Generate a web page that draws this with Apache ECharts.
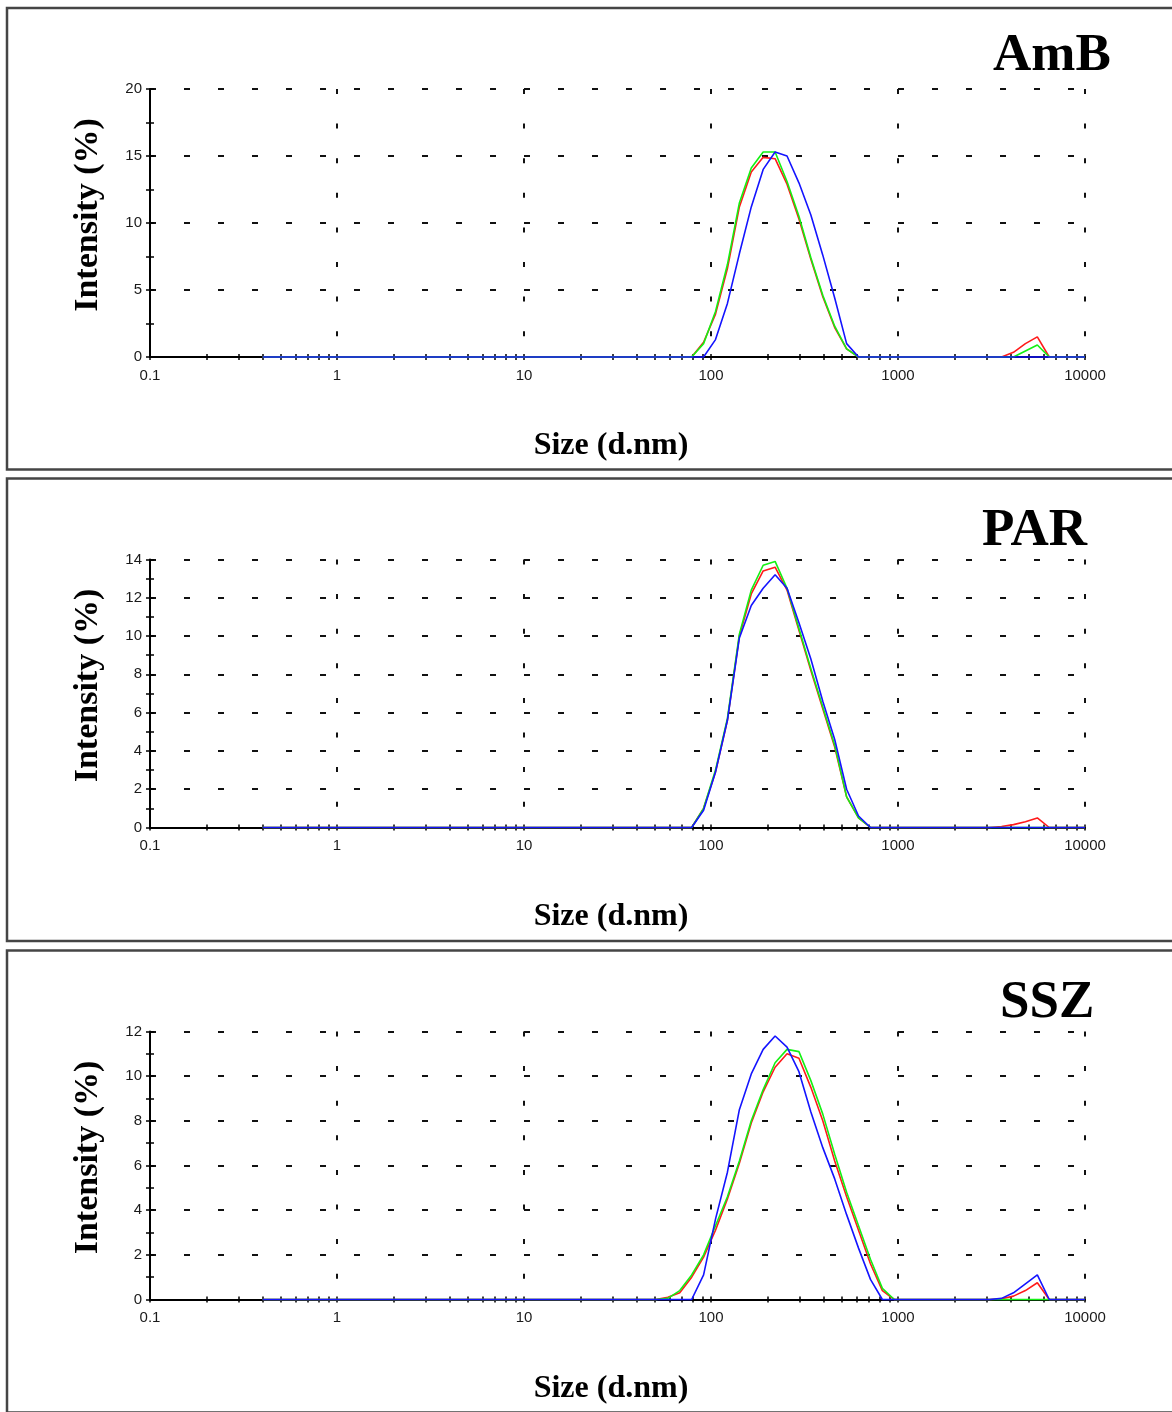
<!DOCTYPE html>
<html>
<head>
<meta charset="utf-8">
<script src="https://cdn.jsdelivr.net/npm/echarts@6/dist/echarts.min.js"></script>
<style>
html, body { margin: 0; padding: 0; background: #fff; }
#chart { width: 1172px; height: 1412px; }
</style>
</head>
<body>
<div id="chart"></div>
<script>
// Size bins (d.nm) of the DLS intensity distribution
const sizes = [
  0.4, 0.4632, 0.5365, 0.6213, 0.7195, 0.8332, 0.9649, 1.117, 1.294, 1.499,
  1.736, 2.010, 2.328, 2.696, 3.122, 3.615, 4.187, 4.849, 5.615, 6.503,
  7.531, 8.721, 10.10, 11.70, 13.54, 15.69, 18.17, 21.04, 24.36, 28.21,
  32.67, 37.84, 43.82, 50.75, 58.77, 68.06, 78.82, 91.28, 105.7, 122.4,
  141.8, 164.2, 190.1, 220.2, 255.0, 295.3, 342.0, 396.1, 458.7, 531.2,
  615.1, 712.4, 825.0, 955.4, 1106, 1281, 1484, 1718, 1990, 2305,
  2669, 3091, 3580, 4145, 4801, 5560, 6439, 7456, 8635, 10000
];

// Intensity (%) per bin, three measurements per sample
const ambRed = [
  0,0,0,0,0,0,0,0,0,0, 0,0,0,0,0,0,0,0,0,0, 0,0,0,0,0,0,0,0,0,0,
  0,0,0,0,0,0,0,1.1,3.2,6.6, 11.2,13.8,14.9,14.8,12.9,10.3,7.3,4.5,2.2,0.6,
  0,0,0,0,0,0,0,0,0,0, 0,0,0,0.35,1.0,1.5,0,0,0,0
];
const ambGreen = [
  0,0,0,0,0,0,0,0,0,0, 0,0,0,0,0,0,0,0,0,0, 0,0,0,0,0,0,0,0,0,0,
  0,0,0,0,0,0,0,1.0,3.4,6.9, 11.5,14.1,15.3,15.3,13.1,10.5,7.4,4.6,2.3,0.6,
  0,0,0,0,0,0,0,0,0,0, 0,0,0,0,0.45,0.9,0,0,0,0
];
const ambBlue = [
  0,0,0,0,0,0,0,0,0,0, 0,0,0,0,0,0,0,0,0,0, 0,0,0,0,0,0,0,0,0,0,
  0,0,0,0,0,0,0,0,1.3,4.0, 7.7,11.2,14.0,15.3,15.0,13.0,10.6,7.6,4.4,1.0,
  0,0,0,0,0,0,0,0,0,0, 0,0,0,0,0,0,0,0,0,0
];
const parRed = [
  0,0,0,0,0,0,0,0,0,0, 0,0,0,0,0,0,0,0,0,0, 0,0,0,0,0,0,0,0,0,0,
  0,0,0,0,0,0,0,1.0,2.9,5.6, 10.0,12.2,13.4,13.6,12.4,10.3,8.2,6.2,4.2,1.6,
  0.5,0,0,0,0,0,0,0,0,0, 0,0,0.05,0.15,0.3,0.5,0,0,0,0
];
const parGreen = [
  0,0,0,0,0,0,0,0,0,0, 0,0,0,0,0,0,0,0,0,0, 0,0,0,0,0,0,0,0,0,0,
  0,0,0,0,0,0,0,1.0,3.0,5.7, 10.1,12.4,13.7,13.9,12.5,10.4,8.3,6.3,4.3,1.6,
  0.5,0,0,0,0,0,0,0,0,0, 0,0,0,0,0,0,0,0,0,0
];
const parBlue = [
  0,0,0,0,0,0,0,0,0,0, 0,0,0,0,0,0,0,0,0,0, 0,0,0,0,0,0,0,0,0,0,
  0,0,0,0,0,0,0,0.9,2.9,5.6, 9.9,11.6,12.5,13.2,12.5,10.7,8.8,6.6,4.6,2.0,
  0.6,0,0,0,0,0,0,0,0,0, 0,0,0,0,0,0,0,0,0,0
];
const sszRed = [
  0,0,0,0,0,0,0,0,0,0, 0,0,0,0,0,0,0,0,0,0, 0,0,0,0,0,0,0,0,0,0,
  0,0,0,0,0.1,0.3,1.0,1.9,3.1,4.5, 6.1,7.9,9.3,10.4,11.0,10.8,9.5,8.0,6.2,4.6,
  3.1,1.6,0.4,0,0,0,0,0,0,0, 0,0,0.03,0.15,0.4,0.75,0,0,0,0
];
const sszGreen = [
  0,0,0,0,0,0,0,0,0,0, 0,0,0,0,0,0,0,0,0,0, 0,0,0,0,0,0,0,0,0,0,
  0,0,0,0,0.05,0.4,1.1,2.0,3.3,4.6, 6.2,8.0,9.4,10.6,11.2,11.1,9.8,8.3,6.5,4.8,
  3.3,1.8,0.5,0,0,0,0,0,0,0, 0,0,0,0,0,0,0,0,0,0
];
const sszBlue = [
  0,0,0,0,0,0,0,0,0,0, 0,0,0,0,0,0,0,0,0,0, 0,0,0,0,0,0,0,0,0,0,
  0,0,0,0,0,0,0,1.1,3.6,5.7, 8.5,10.1,11.2,11.8,11.3,10.2,8.4,6.8,5.4,3.8,
  2.3,0.9,0,0,0,0,0,0,0,0, 0,0,0.05,0.3,0.7,1.1,0,0,0,0
];

// Panel titles, y ranges and tick positions
const sampleNames = ['AmB', 'PAR', 'SSZ'];
const yMaxes = [20, 14, 12];
const yIntervals = [5, 2, 2];
const yTickValues = [
  [0, 2.5, 5, 7.5, 10, 12.5, 15, 17.5, 20],
  [0, 1, 2, 3, 4, 5, 6, 7, 8, 9, 10, 11, 12, 13, 14],
  [0, 1, 2, 3, 4, 5, 6, 7, 8, 9, 10, 11, 12]
];
const xTickValues = [
  0.1, 0.2, 0.3, 0.4, 0.5, 0.6, 0.7, 0.8, 0.9,
  1, 2, 3, 4, 5, 6, 7, 8, 9,
  10, 20, 30, 40, 50, 60, 70, 80, 90,
  100, 200, 300, 400, 500, 600, 700, 800, 900,
  1000, 2000, 3000, 4000, 5000, 6000, 7000, 8000, 9000, 10000
];
const xTitle = 'Size (d.nm)';
const yTitle = 'Intensity (%)';

const panelSeries = [
  [ambRed, ambGreen, ambBlue],
  [parRed, parGreen, parBlue],
  [sszRed, sszGreen, sszBlue]
];
const lineColors = ['#ff1a1a', '#14f014', '#1414ff'];

// Layout
const panelTops = [8, 478.5, 950.5];
const panelHeights = [461.5, 462.5, 462];
const gridLeft = 150, gridWidth = 935, gridTopOffset = 81, gridHeight = 268;
const titlePos = [[993, 56], [982, 531], [1000, 1003]];

const serif = '"Liberation Serif", "Times New Roman", serif';
const sans = '"Liberation Sans", Arial, sans-serif';

const grids = [], xAxes = [], yAxes = [], series = [], graphics = [];

sampleNames.forEach((name, i) => {
  grids.push({ left: gridLeft, width: gridWidth, top: panelTops[i] + gridTopOffset, height: gridHeight });

  // main log axis: line, labels and vertical dashed grid
  xAxes.push({
    type: 'log', logBase: 10, gridIndex: i, min: 0.1, max: 10000, position: 'bottom',
    axisLine: { onZero: false, lineStyle: { color: '#000', width: 2 } },
    axisTick: { show: false },
    axisLabel: {
      color: '#1a1a1a', fontFamily: sans, fontSize: 15, margin: 11,
      formatter: v => String(+Number(v).toPrecision(6))
    },
    splitLine: { show: true, lineStyle: { color: '#111', width: 2, type: [5, 29.6] } }
  });
  // tick marks crossing the axis line (decades and 2..9 subdivisions)
  xAxes.push({
    type: 'log', logBase: 10, gridIndex: i, min: 0.1, max: 10000, position: 'bottom', offset: -3,
    axisLine: { show: false, onZero: false }, axisLabel: { show: false }, splitLine: { show: false },
    axisTick: { show: true, customValues: xTickValues, length: 6, lineStyle: { color: '#000', width: 1.5 } }
  });

  yAxes.push({
    type: 'value', gridIndex: i, min: 0, max: yMaxes[i], interval: yIntervals[i], position: 'left',
    axisLine: { show: true, onZero: false, lineStyle: { color: '#000', width: 2 } },
    axisTick: { show: false },
    axisLabel: { color: '#1a1a1a', fontFamily: sans, fontSize: 15, margin: 8 },
    splitLine: { show: true, lineStyle: { color: '#111', width: 2, type: [6, 28] } }
  });
  yAxes.push({
    type: 'value', gridIndex: i, min: 0, max: yMaxes[i], position: 'left', offset: -4,
    axisLine: { show: false, onZero: false }, axisLabel: { show: false }, splitLine: { show: false },
    axisTick: { show: true, customValues: yTickValues[i], length: 8, lineStyle: { color: '#000', width: 1.5 } }
  });

  panelSeries[i].forEach((vals, k) => {
    series.push({
      type: 'line', xAxisIndex: 2 * i, yAxisIndex: 2 * i,
      data: sizes.map((s, j) => [s, vals[j]]),
      showSymbol: false, clip: false, z: 3 + k,
      lineStyle: { color: lineColors[k], width: 1.6 },
      itemStyle: { color: lineColors[k] }
    });
  });

  const top = panelTops[i];
  graphics.push({
    type: 'rect', z: 10,
    shape: { x: 7, y: top, width: 1200, height: panelHeights[i] },
    style: { fill: 'none', stroke: '#454545', lineWidth: 2.5 }
  });
  graphics.push({
    type: 'text', x: titlePos[i][0], y: titlePos[i][1],
    style: {
      text: name, font: 'bold 53px ' + serif, fill: '#000',
      align: 'left', verticalAlign: 'middle', textAlign: 'left', textVerticalAlign: 'middle'
    }
  });
  graphics.push({
    type: 'text', x: 88, y: top + 207, rotation: Math.PI / 2,
    style: {
      text: yTitle, font: 'bold 34px ' + serif, fill: '#000',
      align: 'center', verticalAlign: 'middle', textAlign: 'center', textVerticalAlign: 'middle'
    }
  });
  graphics.push({
    type: 'text', x: 611, y: top + 438,
    style: {
      text: xTitle, font: 'bold 32px ' + serif, fill: '#000',
      align: 'center', verticalAlign: 'middle', textAlign: 'center', textVerticalAlign: 'middle'
    }
  });
});

const chart = echarts.init(document.getElementById('chart'), null, { renderer: 'canvas' });
chart.setOption({
  animation: false,
  backgroundColor: '#fff',
  grid: grids,
  xAxis: xAxes,
  yAxis: yAxes,
  series: series,
  graphic: { elements: graphics }
});
</script>
</body>
</html>
